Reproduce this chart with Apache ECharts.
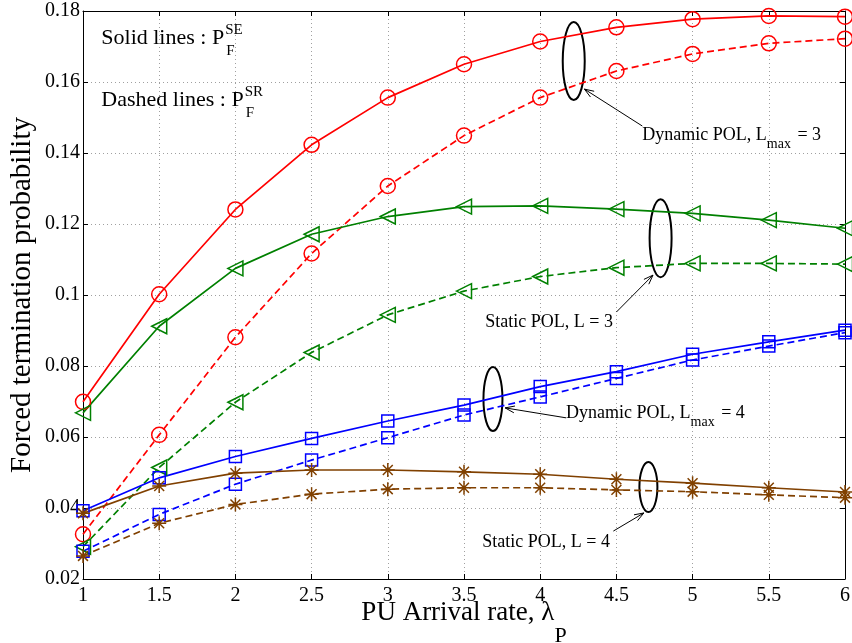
<!DOCTYPE html>
<html>
<head>
<meta charset="utf-8">
<script src="https://cdn.jsdelivr.net/npm/echarts@6/dist/echarts.min.js"></script>
<style>
  html, body { margin: 0; padding: 0; background: #fff; }
  #chart { width: 852px; height: 643px; }
</style>
</head>
<body>
<div id="chart"></div>
<script>
// PU arrival rate (lambda_P) sample points
const lambdaP = [1, 1.5, 2, 2.5, 3, 3.5, 4, 4.5, 5, 5.5, 6];

// Forced termination probability, SE = solid, SR = dashed
const dynamicL3_SE = [0.0699, 0.1002, 0.1241, 0.1423, 0.1556, 0.1650, 0.1714, 0.1754, 0.1777, 0.1786, 0.1784];
const dynamicL3_SR = [0.0326, 0.0606, 0.0881, 0.1117, 0.1307, 0.1449, 0.1556, 0.1631, 0.1679, 0.1709, 0.1722];
const staticL3_SE  = [0.0668, 0.0912, 0.1075, 0.1171, 0.1221, 0.1249, 0.1251, 0.1242, 0.1230, 0.1211, 0.1188];
const staticL3_SR  = [0.0291, 0.0514, 0.0698, 0.0838, 0.0944, 0.1011, 0.1052, 0.1077, 0.1089, 0.1089, 0.1087];
const dynamicL4_SE = [0.0392, 0.0485, 0.0545, 0.0596, 0.0645, 0.0690, 0.0742, 0.0784, 0.0833, 0.0868, 0.0901];
const dynamicL4_SR = [0.0278, 0.0382, 0.0467, 0.0535, 0.0598, 0.0662, 0.0713, 0.0765, 0.0817, 0.0856, 0.0894];
const staticL4_SE  = [0.0385, 0.0462, 0.0498, 0.0507, 0.0507, 0.0502, 0.0495, 0.0481, 0.0470, 0.0457, 0.0445];
const staticL4_SR  = [0.0265, 0.0357, 0.0410, 0.0439, 0.0453, 0.0457, 0.0457, 0.0451, 0.0446, 0.0437, 0.0429];

// Tick values
const xTicks = [1, 1.5, 2, 2.5, 3, 3.5, 4, 4.5, 5, 5.5, 6];
const yTicks = [0.02, 0.04, 0.06, 0.08, 0.1, 0.12, 0.14, 0.16, 0.18];

// Axis titles
const xTitle = { main: 'PU Arrival rate, λ', sub: 'P' };
const yTitle = 'Forced termination probability';

const FONT = '"Liberation Serif", "Times New Roman", serif';
const RED = '#ff0000', GREEN = '#008000', BLUE = '#0000ff', BROWN = '#804000';
const ASTERISK = 'path://M0 -10L0 10M-10 0L10 0M-7.07 -7.07L7.07 7.07M-7.07 7.07L7.07 -7.07';

const chart = echarts.init(document.getElementById('chart'), null, { renderer: 'canvas' });

function pairs(ys) { return lambdaP.map((x, i) => [x, ys[i]]); }

function curve(name, ys, color, dashed, symbol, size, rotate) {
  return {
    name: name,
    type: 'line',
    data: pairs(ys),
    symbol: symbol,
    symbolSize: size,
    symbolRotate: rotate || 0,
    showAllSymbol: true,
    lineStyle: { color: color, width: 1.7, type: dashed ? [7, 4] : 'solid' },
    itemStyle: { color: 'rgba(0,0,0,0)', borderColor: color, borderWidth: 1.5 },
    emphasis: { disabled: true },
    silent: true
  };
}

const tickStep = (a) => +(a[1] - a[0]).toFixed(6);

const xBase = {
  type: 'value',
  min: xTicks[0],
  max: xTicks[xTicks.length - 1],
  interval: tickStep(xTicks),
  axisLine: { show: true, onZero: false, lineStyle: { color: '#000', width: 1 } },
  axisTick: { show: true, inside: true, length: 5, lineStyle: { color: '#000' } }
};
const yBase = {
  type: 'value',
  min: yTicks[0],
  max: yTicks[yTicks.length - 1],
  interval: tickStep(yTicks),
  axisLine: { show: true, onZero: false, lineStyle: { color: '#000', width: 1 } },
  axisTick: { show: true, inside: true, length: 5, lineStyle: { color: '#000' } }
};

chart.setOption({
  animation: false,
  backgroundColor: '#fff',
  grid: { left: 83, right: 7, top: 11, bottom: 64, outerBoundsMode: 'none', containLabel: false },
  xAxis: [
    Object.assign({}, xBase, {
      position: 'bottom',
      axisLabel: { color: '#000', fontFamily: FONT, fontSize: 20, margin: 7, showMinLabel: true, showMaxLabel: true },
      splitLine: { show: true, lineStyle: { type: [1, 3], color: '#a0a0a0', width: 1 } }
    }),
    Object.assign({}, xBase, {
      position: 'top',
      axisLabel: { show: false },
      splitLine: { show: false }
    })
  ],
  yAxis: [
    Object.assign({}, yBase, {
      position: 'left',
      axisLabel: { color: '#000', fontFamily: FONT, fontSize: 20, margin: 3, showMinLabel: true, showMaxLabel: true },
      splitLine: { show: true, lineStyle: { type: [1, 3], color: '#a0a0a0', width: 1 } },
      name: yTitle,
      nameLocation: 'middle',
      nameGap: 46,
      nameMoveOverlap: false,
      nameTextStyle: { fontFamily: FONT, fontSize: 29, color: '#000' }
    }),
    Object.assign({}, yBase, {
      position: 'right',
      axisLabel: { show: false },
      splitLine: { show: false }
    })
  ],
  series: [
    curve('Dynamic POL, Lmax = 3 (SE)', dynamicL3_SE, RED, false, 'circle', 15),
    curve('Dynamic POL, Lmax = 3 (SR)', dynamicL3_SR, RED, true, 'circle', 15),
    curve('Static POL, L = 3 (SE)', staticL3_SE, GREEN, false, 'triangle', 15, 90),
    curve('Static POL, L = 3 (SR)', staticL3_SR, GREEN, true, 'triangle', 15, 90),
    curve('Dynamic POL, Lmax = 4 (SE)', dynamicL4_SE, BLUE, false, 'rect', 12),
    curve('Dynamic POL, Lmax = 4 (SR)', dynamicL4_SR, BLUE, true, 'rect', 12),
    curve('Static POL, L = 4 (SE)', staticL4_SE, BROWN, false, ASTERISK, 14),
    curve('Static POL, L = 4 (SR)', staticL4_SR, BROWN, true, ASTERISK, 14)
  ]
});

// ---- annotations: axis title, line-style notes, ellipses around curve pairs, arrows and captions ----
const measure = document.createElement('canvas').getContext('2d');
function fontOf(size) { return size + 'px ' + FONT; }
function textWidth(str, size) { measure.font = fontOf(size); return measure.measureText(str).width; }
function toPx(p) { return chart.convertToPixel({ gridIndex: 0 }, p); }

function txt(str, x, y, size) {
  return {
    type: 'text', x: x, y: y, silent: true,
    style: { text: str, font: fontOf(size), fill: '#000', align: 'left', verticalAlign: 'middle' }
  };
}

// note text with stacked superscript / subscript (P_F^SE)
const notes = [
  { main: 'Solid lines : P', sup: 'SE', sub: 'F', at: [1.12, 0.1723] },
  { main: 'Dashed lines : P', sup: 'SR', sub: 'F', at: [1.12, 0.1549] }
];

// groups of curves marked with an ellipse, an arrow and a caption
const callouts = [
  { ellipse: [4.22, 0.1659], rx: 11, ry: 39, tip: [4.29, 0.1580], tail: [4.67, 0.1476],
    label: [4.67, 0.1449], parts: ['Dynamic POL, L', 'max', ' = 3'] },
  { ellipse: [4.79, 0.1160], rx: 11, ry: 39, tip: [4.74, 0.1056], tail: [4.50, 0.0952],
    label: [3.64, 0.0924], parts: ['Static POL, L = 3'] },
  { ellipse: [3.69, 0.0707], rx: 9.5, ry: 32, tip: [3.77, 0.0682], tail: [4.17, 0.0654],
    label: [4.17, 0.0668], parts: ['Dynamic POL, L', 'max', ' = 4'] },
  { ellipse: [4.71, 0.0459], rx: 9, ry: 25, tip: [4.68, 0.0386], tail: [4.48, 0.0335],
    label: [3.62, 0.0304], parts: ['Static POL, L = 4'] }
];

function buildGraphics() {
  const g = [];

  // x-axis title with subscript, centred under the plot
  const left = toPx([xTicks[0], yTicks[0]]);
  const right = toPx([xTicks[xTicks.length - 1], yTicks[0]]);
  const wMain = textWidth(xTitle.main, 27), wSub = textWidth(xTitle.sub, 22);
  const x0 = (left[0] + right[0]) / 2 - (wMain + wSub) / 2;
  g.push(txt(xTitle.main, x0, left[1] + 34, 27));
  g.push(txt(xTitle.sub, x0 + wMain, left[1] + 57, 22));

  notes.forEach(n => {
    const p = toPx(n.at);
    g.push(txt(n.main, p[0], p[1], 22));
    const xs = p[0] + textWidth(n.main, 22) + 1;
    g.push(txt(n.sup, xs, p[1] - 8.5, 15));
    g.push(txt(n.sub, xs + 1, p[1] + 12.5, 15));
  });
  callouts.forEach(c => {
    const e = toPx(c.ellipse);
    g.push({ type: 'ellipse', silent: true, shape: { cx: e[0], cy: e[1], rx: c.rx, ry: c.ry },
      style: { fill: 'none', stroke: '#000', lineWidth: 2 } });
    const tip = toPx(c.tip), tail = toPx(c.tail);
    g.push({ type: 'line', silent: true, shape: { x1: tail[0], y1: tail[1], x2: tip[0], y2: tip[1] },
      style: { stroke: '#000', lineWidth: 1 } });
    const ang = Math.atan2(tip[1] - tail[1], tip[0] - tail[0]);
    const L = 10, spread = 0.35;
    g.push({ type: 'polyline', silent: true, shape: { points: [
      [tip[0] - L * Math.cos(ang - spread), tip[1] - L * Math.sin(ang - spread)],
      [tip[0], tip[1]],
      [tip[0] - L * Math.cos(ang + spread), tip[1] - L * Math.sin(ang + spread)]
    ] }, style: { stroke: '#000', fill: 'none', lineWidth: 1 } });
    const lp = toPx(c.label);
    let x = lp[0];
    c.parts.forEach((s, i) => {
      const sub = i === 1;
      const size = sub ? 14 : 18;
      g.push(txt(s, x, lp[1] + (sub ? 9 : 0), size));
      x += textWidth(s, size) + (sub ? 2 : 0);
    });
  });
  chart.setOption({ graphic: { elements: g } });
}
buildGraphics();
</script>
</body>
</html>
